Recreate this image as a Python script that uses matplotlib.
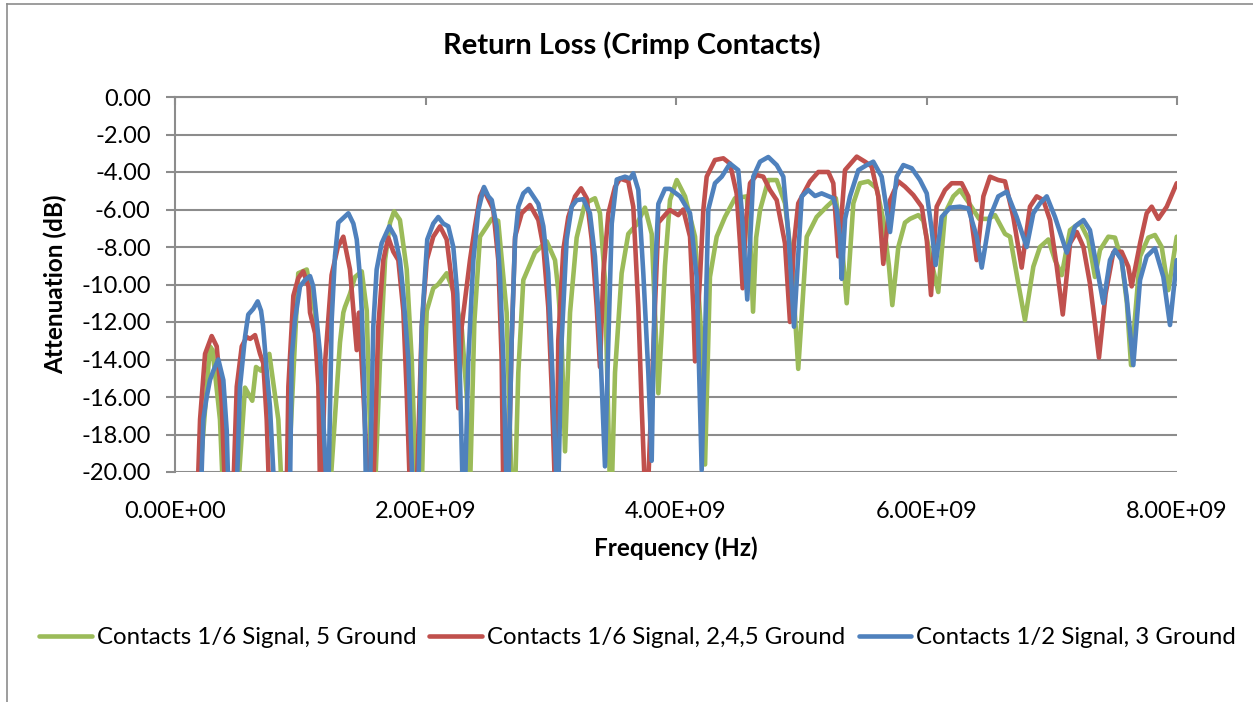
import numpy as np
import matplotlib
matplotlib.use('Agg')
import matplotlib.pyplot as plt
import matplotlib.ticker as ticker
from matplotlib.lines import Line2D

plt.rcParams['font.family'] = ['Lato', 'DejaVu Sans']

# (frequency GHz, attenuation dB); -21 means below the axis floor
green = np.array([
    (0.10, -21), (0.19, -21), (0.279, -13.3), (0.30, -13.5), (0.359, -17.2), (0.383, -21),
    (0.503, -21), (0.559, -15.5), (0.617, -16.2), (0.647, -14.4), (0.687, -14.6), (0.753, -13.7), (0.825, -17.2), (0.852, -21),
    (0.90, -21), (0.984, -9.4), (1.052, -9.2), (1.118, -11.5), (1.19, -21),
    (1.238, -21), (1.317, -13.1), (1.344, -11.5), (1.357, -11.2), (1.397, -10.5), (1.437, -9.6), (1.491, -9.3), (1.531, -11.4), (1.570, -21),
    (1.597, -21), (1.637, -14.0), (1.677, -8.7), (1.717, -6.7), (1.749, -6.1), (1.796, -6.56), (1.850, -9.2), (1.890, -14.0), (1.925, -21),
    (1.970, -21), (1.995, -14.0), (2.010, -11.4), (2.062, -10.2), (2.100, -10.0), (2.169, -9.4), (2.220, -10.3), (2.290, -12.4), (2.330, -16.0), (2.355, -21),
    (2.390, -12.0), (2.435, -7.45), (2.489, -6.9), (2.529, -6.5), (2.580, -6.6), (2.648, -11.5), (2.688, -21),
    (2.715, -21), (2.741, -14.7), (2.781, -9.76), (2.874, -8.3), (2.968, -7.7), (3.034, -8.7), (3.060, -10.3), (3.087, -13.0), (3.114, -18.9),
    (3.154, -11.5), (3.207, -7.5), (3.273, -5.67), (3.353, -5.4), (3.393, -6.2), (3.433, -9.8), (3.473, -21),
    (3.487, -21), (3.513, -14.7), (3.566, -9.4), (3.619, -7.3), (3.686, -6.8), (3.752, -5.9), (3.806, -7.3), (3.859, -15.8),
    (3.886, -12.5), (3.912, -9.0), (3.952, -5.5), (4.006, -4.43), (4.072, -5.3), (4.152, -7.45), (4.205, -13.1), (4.232, -19.6),
    (4.271, -9.6), (4.325, -7.45), (4.391, -6.4), (4.471, -5.4), (4.565, -5.3), (4.595, -8.0), (4.615, -11.45), (4.640, -7.5), (4.671, -6.03),
    (4.737, -4.43), (4.804, -4.43), (4.870, -5.67), (4.923, -8.7), (4.976, -14.5),
    (5.044, -7.45), (5.123, -6.4), (5.203, -5.85), (5.276, -5.4), (5.320, -7.5), (5.363, -11.0),
    (5.416, -5.67), (5.469, -4.6), (5.535, -4.5), (5.602, -4.87), (5.655, -6.56), (5.700, -9.0), (5.727, -11.1),
    (5.775, -8.0), (5.828, -6.7), (5.868, -6.5), (5.935, -6.3), (5.975, -6.6), (6.030, -8.5), (6.094, -10.4),
    (6.148, -6.2), (6.214, -5.3), (6.267, -4.96), (6.334, -5.6), (6.420, -6.5), (6.494, -6.5), (6.547, -6.3), (6.627, -7.3),
    (6.667, -7.45), (6.733, -9.95), (6.786, -11.9), (6.853, -9.05), (6.906, -8.0), (6.973, -7.6), (7.026, -8.7), (7.080, -9.5),
    (7.146, -7.1), (7.226, -6.7), (7.293, -7.6), (7.345, -9.6), (7.385, -8.16), (7.452, -7.45), (7.505, -7.5), (7.558, -8.7),
    (7.600, -11.0), (7.633, -14.3), (7.705, -8.5), (7.771, -7.5), (7.824, -7.36), (7.878, -8.0), (7.931, -10.3), (7.998, -7.45),
])

red = np.array([
    (0.10, -21), (0.181, -21), (0.200, -17.2), (0.240, -13.7), (0.293, -12.75), (0.333, -13.3), (0.373, -16.3), (0.399, -21),
    (0.465, -21), (0.493, -15.45), (0.533, -13.3), (0.572, -12.8), (0.600, -12.9), (0.639, -12.7), (0.679, -13.7), (0.705, -14.2), (0.732, -17.2), (0.751, -21),
    (0.892, -21), (0.905, -15.45), (0.945, -10.6), (0.984, -9.66), (1.024, -9.3), (1.065, -10.1), (1.078, -11.5), (1.118, -12.6), (1.145, -15.45), (1.158, -21),
    (1.171, -21), (1.200, -14.0), (1.250, -9.5), (1.300, -8.0), (1.344, -7.45), (1.397, -9.2), (1.451, -13.5), (1.469, -11.5), (1.504, -15.8), (1.543, -21),
    (1.583, -21), (1.623, -12.25), (1.663, -8.7), (1.703, -7.5), (1.743, -8.25), (1.783, -8.7), (1.823, -11.4), (1.850, -15.8), (1.876, -21),
    (1.930, -21), (1.970, -12.25), (2.010, -8.7), (2.062, -7.45), (2.116, -6.9), (2.169, -7.6), (2.222, -10.5), (2.262, -16.6),
    (2.289, -12.25), (2.355, -8.7), (2.395, -6.9), (2.435, -5.3), (2.462, -4.9), (2.541, -6.0), (2.581, -8.7), (2.608, -14.0), (2.621, -21),
    (2.661, -21), (2.688, -13.0), (2.715, -7.45), (2.768, -6.2), (2.834, -5.76), (2.901, -6.56), (2.941, -8.0), (2.980, -11.2), (3.008, -15.6), (3.034, -21),
    (3.048, -21), (3.060, -13.0), (3.100, -8.16), (3.140, -6.4), (3.194, -5.3), (3.242, -4.87), (3.287, -5.4), (3.327, -7.6), (3.367, -11.2), (3.393, -14.4),
    (3.420, -9.4), (3.460, -6.2), (3.513, -4.8), (3.553, -4.35), (3.619, -4.5), (3.659, -5.85), (3.699, -11.2), (3.726, -16.5), (3.752, -21),
    (3.776, -21), (3.832, -11.2), (3.859, -6.7), (3.938, -6.1), (3.952, -6.03), (4.018, -6.3), (4.058, -6.0), (4.112, -7.45), (4.139, -11.4), (4.152, -14.1),
    (4.192, -9.6), (4.218, -6.03), (4.245, -4.25), (4.311, -3.36), (4.378, -3.27), (4.431, -3.55), (4.484, -5.14), (4.511, -7.8), (4.532, -10.2),
    (4.559, -6.56), (4.591, -4.6), (4.644, -4.16), (4.697, -4.25), (4.750, -4.96), (4.804, -5.5), (4.870, -7.8), (4.910, -12.0),
    (4.942, -7.8), (4.976, -5.67), (5.070, -4.5), (5.136, -4.0), (5.216, -4.0), (5.256, -4.6), (5.296, -8.5),
    (5.323, -6.2), (5.349, -3.9), (5.443, -3.18), (5.509, -3.45), (5.562, -3.7), (5.615, -5.3), (5.655, -8.9),
    (5.709, -5.5), (5.775, -4.5), (5.828, -4.78), (5.895, -5.23), (5.962, -5.85), (6.002, -7.6), (6.036, -10.56),
    (6.081, -5.85), (6.148, -4.96), (6.201, -4.6), (6.281, -4.6), (6.334, -5.3), (6.401, -8.7),
    (6.454, -5.3), (6.507, -4.25), (6.573, -4.43), (6.627, -4.5), (6.693, -6.4), (6.760, -9.1),
    (6.826, -5.85), (6.880, -5.3), (6.933, -5.5), (6.986, -6.56), (7.040, -9.05), (7.088, -11.6),
    (7.146, -7.8), (7.200, -7.2), (7.253, -8.0), (7.305, -9.95), (7.345, -12.1), (7.377, -13.9),
    (7.430, -10.5), (7.491, -8.3), (7.558, -8.25), (7.611, -9.05), (7.638, -10.1),
    (7.705, -7.8), (7.758, -6.2), (7.798, -5.85), (7.851, -6.5), (7.918, -5.85), (7.998, -4.6),
])

blue = np.array([
    (0.10, -21), (0.208, -21), (0.226, -17.2), (0.253, -16.0), (0.279, -15.1), (0.306, -14.6), (0.346, -14.0), (0.386, -15.1), (0.413, -17.8), (0.426, -21),
    (0.493, -21), (0.519, -15.45), (0.559, -12.8), (0.585, -11.6), (0.625, -11.3), (0.660, -10.9), (0.687, -11.4), (0.703, -12.2), (0.732, -14.6), (0.758, -16.5), (0.793, -21),
    (0.918, -21), (0.932, -13.85), (0.958, -11.9), (0.998, -10.1), (1.038, -9.76), (1.078, -9.55), (1.104, -10.1), (1.118, -11.0), (1.158, -13.7), (1.184, -17.2), (1.211, -21),
    (1.225, -21), (1.251, -11.9), (1.277, -8.5), (1.304, -6.7), (1.384, -6.2), (1.424, -6.75), (1.451, -7.6), (1.477, -9.6), (1.491, -11.4), (1.509, -14.9), (1.525, -21),
    (1.557, -21), (1.583, -12.25), (1.610, -9.2), (1.650, -7.8), (1.711, -6.9), (1.757, -7.45), (1.796, -8.7), (1.823, -10.5), (1.863, -14.0), (1.897, -21),
    (1.943, -21), (1.970, -12.25), (2.014, -7.6), (2.062, -6.75), (2.102, -6.4), (2.142, -6.75), (2.182, -6.9), (2.222, -8.0), (2.254, -10.5), (2.275, -14.9), (2.297, -21),
    (2.315, -21), (2.342, -14.0), (2.382, -8.7), (2.422, -6.03), (2.467, -4.8), (2.502, -5.3), (2.529, -5.5), (2.568, -6.9), (2.595, -9.6), (2.621, -14.0), (2.648, -21),
    (2.661, -21), (2.688, -13.0), (2.715, -7.6), (2.741, -5.85), (2.781, -5.14), (2.821, -4.9), (2.901, -5.7), (2.941, -6.9), (2.980, -9.4), (3.008, -13.85), (3.048, -21),
    (3.060, -21), (3.087, -13.0), (3.127, -7.6), (3.167, -5.85), (3.207, -5.5), (3.260, -5.45), (3.313, -6.2), (3.353, -8.5), (3.393, -13.0), (3.433, -19.7),
    (3.460, -13.0), (3.487, -6.75), (3.527, -4.4), (3.593, -4.25), (3.633, -4.35), (3.659, -4.07), (3.699, -4.96), (3.739, -9.4), (3.779, -14.7), (3.806, -19.4),
    (3.832, -9.4), (3.859, -5.7), (3.912, -4.9), (3.952, -4.9), (4.032, -5.3), (4.112, -6.2), (4.165, -9.6), (4.205, -19.9),
    (4.258, -6.0), (4.311, -4.6), (4.365, -4.25), (4.431, -3.55), (4.497, -3.9), (4.524, -6.0), (4.569, -10.8),
    (4.617, -4.25), (4.671, -3.45), (4.737, -3.2), (4.804, -3.63), (4.857, -4.25), (4.900, -7.5), (4.942, -12.25),
    (5.004, -5.3), (5.056, -4.96), (5.110, -5.28), (5.163, -5.14), (5.256, -5.4), (5.283, -6.0), (5.309, -7.5), (5.323, -9.7),
    (5.350, -6.5), (5.389, -5.3), (5.456, -3.9), (5.523, -3.63), (5.575, -3.45), (5.642, -4.25), (5.709, -7.2),
    (5.762, -4.25), (5.815, -3.63), (5.882, -3.8), (5.948, -4.43), (6.002, -5.14), (6.040, -7.0), (6.073, -8.96),
    (6.121, -6.4), (6.188, -5.9), (6.267, -5.85), (6.334, -5.94), (6.401, -7.45), (6.441, -9.1),
    (6.507, -6.4), (6.573, -5.3), (6.640, -5.05), (6.720, -6.4), (6.800, -8.0),
    (6.853, -6.2), (6.906, -5.67), (6.960, -5.3), (7.026, -6.4), (7.120, -8.3),
    (7.186, -6.9), (7.253, -6.56), (7.305, -7.1), (7.359, -9.05), (7.412, -11.0),
    (7.465, -8.7), (7.505, -8.16), (7.558, -8.7), (7.598, -10.65), (7.651, -14.3),
    (7.705, -9.76), (7.758, -8.5), (7.824, -8.07), (7.891, -9.6), (7.944, -12.16), (7.998, -8.7),
])

labels = ['Contacts 1/6 Signal, 5 Ground',
          'Contacts 1/6 Signal, 2,4,5 Ground',
          'Contacts 1/2 Signal, 3 Ground']
colors = ['#9BBB59', '#C0504D', '#4F81BD']

fig = plt.figure(figsize=(12.53, 7.02), dpi=100)
ax = fig.add_axes([175/1253, 1 - 472/702, 1002/1253, 375/702])

for data, lab, col in zip([green, red, blue], labels, colors):
    ax.plot(data[:, 0] * 1e9, data[:, 1], color=col, lw=3.3, label=lab,
            solid_joinstyle='round', solid_capstyle='round')

ax.set_xlim(0, 8e9)
ax.set_ylim(-20, 0)
ax.xaxis.set_major_locator(ticker.MultipleLocator(2e9))
ax.yaxis.set_major_locator(ticker.MultipleLocator(2))
ax.xaxis.set_major_formatter(ticker.FuncFormatter(lambda v, p: '%.2E' % v))
ax.yaxis.set_major_formatter(ticker.FuncFormatter(lambda v, p: '%.2f' % v))

grid_col = '#8c8c8c'
ax.grid(axis='y', color=grid_col, lw=1.5)
ax.set_axisbelow(True)
for s in ['right', 'bottom']:
    ax.spines[s].set_visible(False)
for s in ['left', 'top']:
    ax.spines[s].set_color(grid_col)
    ax.spines[s].set_linewidth(1.5)

ax.tick_params(axis='x', bottom=False, top=True, labelbottom=True, labeltop=False,
               direction='in', length=6, width=1.5, color=grid_col, labelsize=17, pad=21)
ax.tick_params(axis='y', direction='out', length=6.5, width=1.5, color=grid_col,
               labelsize=17, pad=11)

ax.set_xlabel('Frequency (Hz)', fontsize=17.5, fontweight='bold', labelpad=10)
ax.set_ylabel('Attenuation (dB)', fontsize=17.5, fontweight='bold', labelpad=10)
fig.text(631.5/1253, 1 - 45/702, 'Return Loss (Crimp Contacts)', ha='center', va='center',
         fontsize=21, fontweight='bold')

fig.legend(loc='center', bbox_to_anchor=(637.5/1253, 1 - 638/702), ncol=3, frameon=False,
           fontsize=17.3, handlelength=2.2, handletextpad=0.2, columnspacing=0.55)

# chart area border (left and top edges visible)
fig.add_artist(Line2D([7/1253, 7/1253], [0, 1 - 4/702], color='#8c8c8c', lw=1.2))
fig.add_artist(Line2D([7/1253, 1], [1 - 4/702, 1 - 4/702], color='#8c8c8c', lw=1.2))

fig.savefig('out.png', dpi=100)
